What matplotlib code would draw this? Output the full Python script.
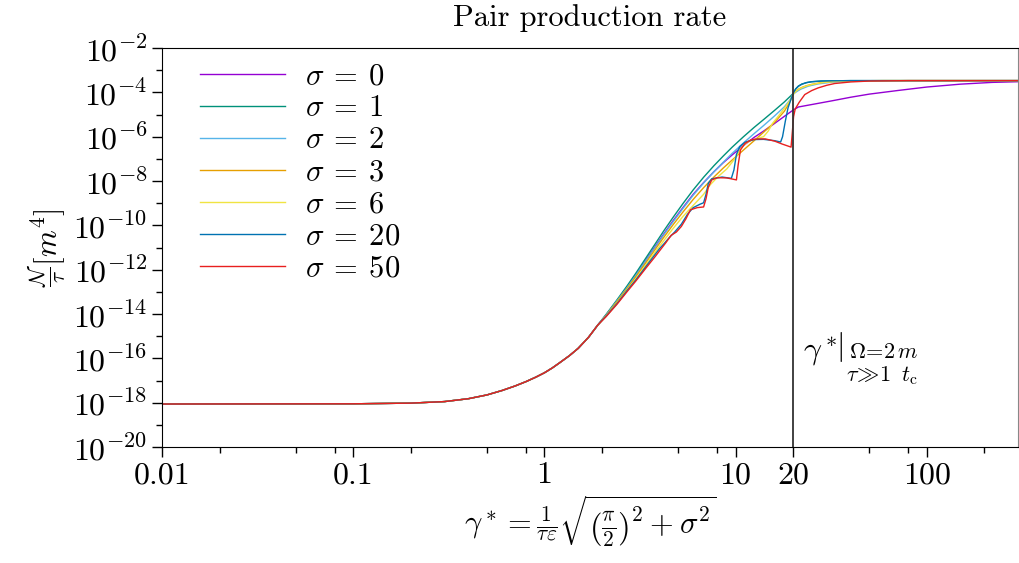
import matplotlib
matplotlib.use("Agg")
import matplotlib.pyplot as plt
import matplotlib.ticker as ticker
import numpy as np

plt.rcParams["mathtext.fontset"] = "cm"
plt.rcParams["font.family"] = "serif"
plt.rcParams["font.serif"] = ["cmr10"]
plt.rcParams["axes.formatter.use_mathtext"] = True
plt.rcParams["axes.unicode_minus"] = False

# common low-gamma part (all sigma agree here), log10 of rate
x_low = [0.01, 0.1, 0.2, 0.3, 0.4, 0.5, 0.6, 0.7, 0.8, 0.9, 1.0, 1.1, 1.2, 1.35,
         1.5, 1.7, 1.9]
y_low = [-18.06, -18.05, -18.02, -17.95, -17.82, -17.65, -17.45, -17.25, -17.05,
         -16.85, -16.65, -16.43, -16.2, -15.88, -15.55, -15.05, -14.5]

sigmas = [0, 1, 2, 3, 6, 20, 50]
colors = ["#9400D3", "#00917A", "#56B4E9", "#E69F00", "#F0E442", "#0072B2", "#E8201F"]

x_s0 = [2.1, 2.4, 2.7, 3.0, 3.4, 3.8, 4.2, 4.7, 5.3, 6.0, 6.8, 7.7, 8.6, 9.6, 11,
        12.5, 14, 16, 18, 20, 21.3, 25, 32, 40, 50, 70, 100, 150, 220, 300]
y_s0 = [-14.04, -13.4, -12.8, -12.25, -11.56, -10.95, -10.4, -9.8, -9.2, -8.6, -8.07,
        -7.58, -7.18, -6.82, -6.4, -6.03, -5.75, -5.4, -5.08, -4.8, -4.66, -4.55,
        -4.38, -4.22, -4.08, -3.92, -3.76, -3.63, -3.55, -3.52]

x_s1 = [2.1, 2.4, 2.7, 3.0, 3.4, 3.8, 4.2, 4.7, 5.3, 6.0, 6.8, 7.7, 8.6, 9.6, 11,
        12.5, 14, 16, 18, 19.3, 20, 20.6, 21.3, 22.2, 23.5, 25, 28, 32, 40, 300]
y_s1 = [-14.02, -13.35, -12.74, -12.17, -11.46, -10.83, -10.26, -9.65, -9.02, -8.4,
        -7.83, -7.31, -6.88, -6.47, -6.0, -5.58, -5.23, -4.81, -4.43, -4.18, -4.05,
        -3.85, -3.72, -3.63, -3.56, -3.52, -3.49, -3.48, -3.47, -3.47]

x_s2 = [2.1, 2.4, 2.7, 3.0, 3.4, 3.8, 4.2, 4.7, 5.3, 6.0, 6.8, 7.7, 8.6, 9.6, 11,
        12.5, 14, 16, 18, 19.3, 20, 21, 22, 24, 27, 32, 40, 60, 300]
y_s2 = [-14.05, -13.4, -12.82, -12.27, -11.59, -10.99, -10.44, -9.85, -9.24, -8.64,
        -8.09, -7.58, -7.16, -6.75, -6.28, -5.86, -5.5, -5.06, -4.65, -4.33, -4.08,
        -3.95, -3.85, -3.72, -3.62, -3.54, -3.5, -3.48, -3.47]

x_s3 = [2.1, 2.4, 2.7, 3.0, 3.4, 3.8, 4.2, 4.7, 5.3, 6.0, 6.8, 7.7, 8.6, 9.6, 11,
        12.5, 14, 16, 18, 19.3, 20, 20.6, 21.3, 22.2, 23.5, 25, 28, 32, 40, 60, 300]
y_s3 = [-14.07, -13.43, -12.86, -12.33, -11.67, -11.08, -10.55, -9.98, -9.4, -8.83,
        -8.3, -7.82, -7.42, -7.05, -6.6, -6.18, -5.8, -5.35, -4.85, -4.4, -4.08,
        -3.95, -3.86, -3.78, -3.7, -3.64, -3.56, -3.51, -3.48, -3.47, -3.47]

x_s6 = [2.1, 2.4, 2.7, 3.0, 3.4, 3.8, 4.2, 4.7, 5.3, 6.0, 6.8, 7.4, 8.1, 9.0, 10.0,
        10.6, 11.3, 12.2, 13, 14, 14.8, 15.6, 17, 18.2, 19.3, 20, 20.6, 21.3, 22.2,
        23.5, 25, 28, 32, 40, 60, 300]
y_s6 = [-14.1, -13.5, -12.92, -12.42, -11.78, -11.2, -10.7, -10.15, -9.6, -9.1, -8.6,
        -8.15, -7.8, -7.45, -6.95, -6.55, -6.3, -6.15, -6.08, -6.0, -5.75, -5.4, -5.0,
        -4.66, -4.35, -4.1, -3.96, -3.87, -3.79, -3.71, -3.65, -3.57, -3.52, -3.48,
        -3.47, -3.47]

x_s20 = [2.1, 2.4, 2.7, 3.0, 3.4, 3.8, 4.0, 4.2, 4.5, 4.8, 5.2, 5.6, 6.0, 6.5, 6.8,
         7.0, 7.2, 7.5, 8.5, 9.5, 9.8, 10.1, 10.5, 11.2, 12.5, 14, 16, 17.2, 17.6,
         18.2, 18.8, 19.5, 20, 20.6, 21.3, 22.2, 23.5, 25, 28, 32, 40, 300]
y_s20 = [-14.1, -13.52, -12.95, -12.47, -11.85, -11.3, -11.05, -10.85, -10.55, -10.3,
         -9.95, -9.5, -9.2, -9.05, -8.98, -8.6, -8.1, -7.9, -7.82, -7.88, -7.5, -6.8,
         -6.45, -6.25, -6.13, -6.12, -6.18, -6.24, -6.0, -5.3, -4.7, -4.3, -4.05,
         -3.85, -3.72, -3.63, -3.56, -3.52, -3.49, -3.48, -3.47, -3.47]

x_s50 = [2.1, 2.4, 2.7, 3.0, 3.4, 3.8, 4.0, 4.3, 4.6, 4.9, 5.2, 5.5, 5.8, 6.3, 6.8,
         7.0, 7.2, 7.5, 8.0, 9.0, 10.1, 10.3, 10.6, 11.2, 12, 13, 14.3, 16, 17.5,
         19.5, 19.8, 20.1, 20.5, 21.5, 23, 25, 27, 30, 33, 40, 50, 80, 300]
y_s50 = [-14.12, -13.55, -13.0, -12.52, -11.92, -11.4, -11.15, -10.8, -10.45, -10.3,
         -10.05, -9.7, -9.3, -9.2, -9.17, -8.8, -8.27, -7.95, -7.85, -7.86, -7.95,
         -7.3, -6.6, -6.3, -6.15, -6.1, -6.1, -6.2, -6.33, -6.47, -5.8, -5.1, -4.75,
         -4.45, -4.1, -3.92, -3.8, -3.68, -3.6, -3.53, -3.49, -3.47, -3.47]

series_x = [x_s0, x_s1, x_s2, x_s3, x_s6, x_s20, x_s50]
series_y = [y_s0, y_s1, y_s2, y_s3, y_s6, y_s20, y_s50]

fig = plt.figure(figsize=(10.2, 5.63), dpi=100)
ax = fig.add_axes([0.159, 0.206, 0.839, 0.7087])

for s, c, xs, ys in zip(sigmas, colors, series_x, series_y):
    x = np.array(x_low + xs)
    y = 10.0 ** np.array(y_low + ys)
    ax.plot(x, y, color=c, lw=1.0, label=r"$\sigma\:=\:%d$" % s)

ax.axvline(20, color="#333333", lw=1.3)

ax.set_xscale("log")
ax.set_yscale("log")
ax.set_xlim(0.01, 300)
ax.set_ylim(1e-20, 1e-2)

ax.xaxis.set_major_locator(ticker.FixedLocator([0.01, 0.1, 1, 10, 20, 100]))
ax.xaxis.set_major_formatter(ticker.FixedFormatter(["0.01", "0.1", "1", "10", "20", "100"]))
ax.xaxis.set_minor_locator(ticker.LogLocator(base=10, subs=[2, 5, 8], numticks=20))
ax.xaxis.set_minor_formatter(ticker.NullFormatter())

ax.yaxis.set_major_locator(ticker.LogLocator(base=100, numticks=20))
ax.yaxis.set_minor_locator(ticker.LogLocator(base=100, subs=[10], numticks=20))
ax.yaxis.set_major_formatter(ticker.FuncFormatter(
    lambda v, p: r"$10^{%d}$" % int(round(np.log10(v)))))
ax.yaxis.set_minor_formatter(ticker.NullFormatter())

ax.tick_params(which="both", direction="out", top=False, right=False, labelsize=23)
ax.tick_params(which="major", length=7, width=1)
ax.tick_params(which="minor", length=4, width=1)
ax.spines["right"].set_color("#888888")

ax.set_title("Pair production rate", fontsize=22, pad=16)
ax.set_xlabel(r"$\gamma^* = \frac{1}{\tau\varepsilon}\sqrt{\left(\frac{\pi}{2}\right)^2 + \sigma^2}$",
              fontsize=22, labelpad=3)
ax.set_ylabel(r"$\frac{\mathcal{N}}{\tau}[m^4]$", fontsize=22, labelpad=4)

ax.text(0.749, 0.22, r"$\gamma^*$", transform=ax.transAxes, fontsize=23, va="baseline")
ax.text(0.7878, 0.25, r"$|$", transform=ax.transAxes, fontsize=22, va="center")
ax.text(0.8025, 0.222, r"$\Omega\!=\!2\,m$", transform=ax.transAxes, fontsize=16,
        va="baseline")
ax.text(0.799, 0.166, r"$\tau\!\gg\!1\;\;t_{\mathrm{c}}$", transform=ax.transAxes,
        fontsize=16, va="baseline")

ax.legend(loc="upper left", bbox_to_anchor=(0.044, 0.9625), frameon=False, fontsize=22,
          handlelength=2.8, handletextpad=0.65, labelspacing=0.15, borderpad=0,
          borderaxespad=0)

fig.savefig("out.png", dpi=100)
